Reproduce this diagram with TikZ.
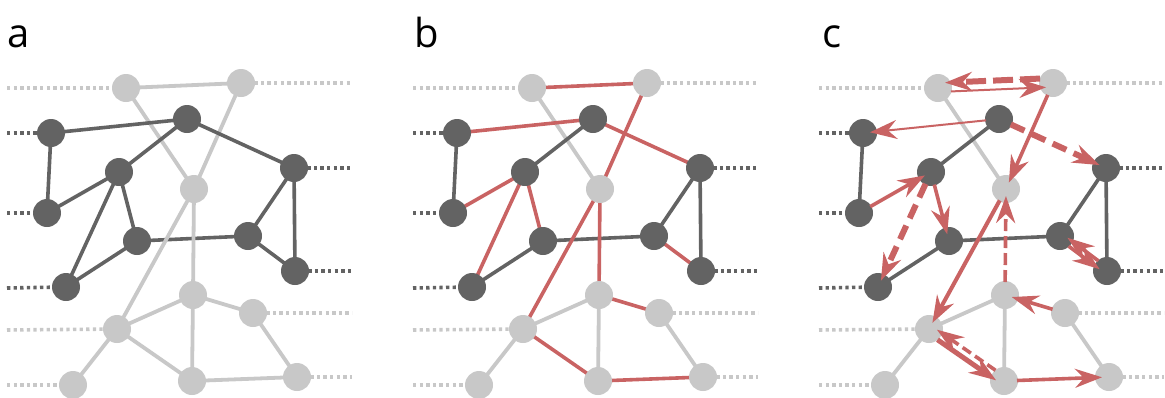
\documentclass[tikz,border=0pt]{standalone}
\usepackage{fontspec}
\setmainfont{Open Sans}
\usetikzlibrary{arrows.meta}
\definecolor{dk}{RGB}{99,99,99}
\definecolor{lt}{RGB}{200,200,200}
\definecolor{rd}{RGB}{201,99,99}
\pgfdeclarelayer{bg}
\pgfsetlayers{bg,main}
\newcommand\ed[4]{\draw[#1] (#2#3.center) -- (#2#4.center);}
\newcommand\mknodes[1]{%
 \node[ln] (#1L1) at (126,88) {};
 \node[ln] (#1L2) at (241,83) {};
 \node[dn] (#1D1) at (51,133) {};
 \node[dn] (#1D2) at (187,119) {};
 \node[dn] (#1D3) at (294,168) {};
 \node[dn] (#1D4) at (119,172) {};
 \node[ln] (#1Lc) at (194,189) {};
 \node[dn] (#1D5) at (47,213) {};
 \node[dn] (#1D6) at (137,241) {};
 \node[dn] (#1D7) at (248,236) {};
 \node[dn] (#1D8) at (295,271) {};
 \node[dn] (#1D9) at (66,287) {};
 \node[ln] (#1L3) at (193,295) {};
 \node[ln] (#1L4) at (253,313) {};
 \node[ln] (#1L5) at (117,329) {};
 \node[ln] (#1L6) at (73,385) {};
 \node[ln] (#1L7) at (192,381) {};
 \node[ln] (#1L8) at (297,377) {};
 \coordinate (#1eL1) at (7,88);
 \coordinate (#1eD1) at (7,133);
 \coordinate (#1eD5) at (7,213);
 \coordinate (#1eD9) at (7,288);
 \coordinate (#1eL5) at (7,330);
 \coordinate (#1eL6) at (7,385);
 \coordinate (#1eL2) at (352,83);
 \coordinate (#1eD3) at (352,168);
 \coordinate (#1eD8) at (352,271);
 \coordinate (#1eL4) at (352,313);
 \coordinate (#1eL8) at (352,377);
 \begin{pgfonlayer}{bg}
 \draw[ldot] (#1eL1) -- (#1L1.center);
 \draw[ddot] (#1eD1) -- (#1D1.center);
 \draw[ddot] (#1eD5) -- (#1D5.center);
 \draw[ddot] (#1eD9) -- (#1D9.center);
 \draw[ldot] (#1eL5) -- (#1L5.center);
 \draw[ldot] (#1eL6) -- (#1L6.center);
 \draw[ldot] (#1L2.center) -- (#1eL2);
 \draw[ddot] (#1D3.center) -- (#1eD3);
 \draw[ddot] (#1D8.center) -- (#1eD8);
 \draw[ldot] (#1L4.center) -- (#1eL4);
 \draw[ldot] (#1L8.center) -- (#1eL8);
 \end{pgfonlayer}
}
\newcommand\grayedges[1]{%
 \ed{le}{#1}{L1}{Lc}\ed{le}{#1}{L3}{L5}\ed{le}{#1}{L3}{L7}\ed{le}{#1}{L5}{L6}\ed{le}{#1}{L4}{L8}%
 \ed{de}{#1}{D1}{D5}\ed{de}{#1}{D2}{D4}\ed{de}{#1}{D6}{D9}\ed{de}{#1}{D6}{D7}\ed{de}{#1}{D7}{D3}\ed{de}{#1}{D3}{D8}%
}
\begin{document}
\begin{tikzpicture}[x=1pt,y=-1pt,
 dn/.style={circle,fill=dk,minimum size=28pt,inner sep=0pt},
 ln/.style={circle,fill=lt,minimum size=28pt,inner sep=0pt},
 de/.style={draw=dk,line width=3.6pt},
 le/.style={draw=lt,line width=3.8pt},
 re/.style={draw=rd,line width=3.6pt},
 ddot/.style={draw=dk,line width=3.6pt,dash pattern=on 3.3pt off 3.3pt},
 ldot/.style={draw=lt,line width=3.6pt,dash pattern=on 3.3pt off 3.3pt},
 ar/.style={draw=rd,-{Stealth[length=27pt,width=19pt,inset=9pt]},shorten <=13pt,shorten >=7pt},
 thinar/.style={ar,line width=2pt},
 medar/.style={ar,line width=3.6pt},
 thkar/.style={ar,line width=6pt},
 lab/.style={font=\fontsize{40}{40}\selectfont,anchor=base west,inner sep=0pt}
]
\useasboundingbox (0,0) rectangle (1165,397);
\node[lab] (la) at (7,47) {a};
\node[lab] (lb) at (414,47) {b};
\node[lab] (lc) at (822,47) {c};
% panel a
\begin{scope}
\mknodes{a}
\begin{pgfonlayer}{bg}
\grayedges{a}
\ed{le}{a}{L1}{L2}\ed{le}{a}{L2}{Lc}\ed{le}{a}{Lc}{L5}\ed{le}{a}{Lc}{L3}\ed{le}{a}{L3}{L4}\ed{le}{a}{L5}{L7}\ed{le}{a}{L7}{L8}
\ed{de}{a}{D1}{D2}\ed{de}{a}{D2}{D3}\ed{de}{a}{D4}{D5}\ed{de}{a}{D4}{D9}\ed{de}{a}{D4}{D6}\ed{de}{a}{D7}{D8}
\end{pgfonlayer}
\end{scope}
% panel b
\begin{scope}[shift={(406,0)}]
\mknodes{b}
\begin{pgfonlayer}{bg}
\grayedges{b}
\ed{re}{b}{L1}{L2}\ed{re}{b}{L2}{Lc}\ed{re}{b}{Lc}{L5}\ed{re}{b}{Lc}{L3}\ed{re}{b}{L3}{L4}\ed{re}{b}{L5}{L7}\ed{re}{b}{L7}{L8}
\ed{re}{b}{D1}{D2}\ed{re}{b}{D2}{D3}\ed{re}{b}{D4}{D5}\ed{re}{b}{D4}{D9}\ed{re}{b}{D4}{D6}\ed{re}{b}{D7}{D8}
\end{pgfonlayer}
\end{scope}
% panel c
\begin{scope}[shift={(812,0)}]
\mknodes{c}
\begin{pgfonlayer}{bg}
\grayedges{c}
\end{pgfonlayer}
\draw[thkar,dash pattern=on 20pt off 7pt] ([shift={(0,-5)}]cL2.center) -- ([shift={(0,-5)}]cL1.center);
\draw[thinar] ([shift={(0,4)}]cL1.center) -- ([shift={(0,4)}]cL2.center);
\draw[thinar] (cD2.center) -- (cD1.center);
\draw[thkar,dash pattern=on 15pt off 8pt] (cD2.center) -- (cD3.center);
\draw[medar] (cL2.center) -- (cLc.center);
\draw[medar] (cD5.center) -- (cD4.center);
\draw[thkar,dash pattern=on 15pt off 8pt] (cD4.center) -- (cD9.center);
\draw[medar] (cD4.center) -- (cD6.center);
\draw[medar,line width=4pt] (cLc.center) -- (cL5.center);
\draw[medar,dash pattern=on 12pt off 5pt] (cL3.center) -- (cLc.center);
\draw[medar] (cL4.center) -- (cL3.center);
\draw[thkar,line width=5pt] ([shift={(-2.2,3.3)}]cL5.center) -- ([shift={(-2.2,3.3)}]cL7.center);
\draw[medar,dash pattern=on 10pt off 5pt] ([shift={(2.2,-3.3)}]cL7.center) -- ([shift={(2.2,-3.3)}]cL5.center);
\draw[medar] (cL7.center) -- (cL8.center);
\draw[medar] ([shift={(1.8,-2.4)}]cD8.center) -- ([shift={(1.8,-2.4)}]cD7.center);
\draw[medar] ([shift={(-1.8,2.4)}]cD7.center) -- ([shift={(-1.8,2.4)}]cD8.center);
\end{scope}
\end{tikzpicture}
\end{document}
